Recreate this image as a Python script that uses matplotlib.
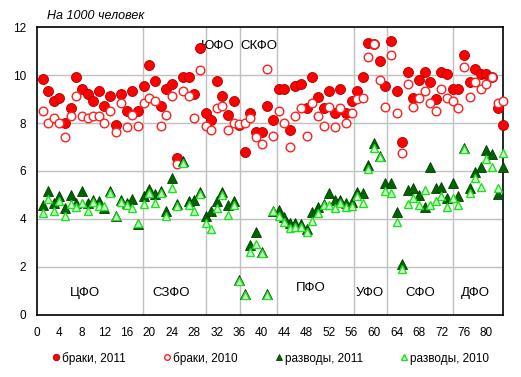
import numpy as np
import matplotlib
matplotlib.use('Agg')
import matplotlib.pyplot as plt

plt.rcParams['font.family'] = ['Liberation Sans', 'DejaVu Sans']

# region numbers 1..83
regions = np.arange(1, 84)

# marriages per 1000 people, 2011
marr_2011 = [9.82, 9.33, 8.92, 9.03, 7.99, 8.61, 9.90, 9.40, 9.21, 8.90,
             9.33, 8.71, 9.13, 7.92, 9.21, 8.50, 9.35, 8.50, 9.54, 10.42,
             9.75, 8.71, 9.40, 9.63, 6.53, 9.90, 9.90, 9.21, 11.11, 8.40,
             8.13, 9.75, 9.13, 8.32, 8.92, 7.90, 6.78, 8.40, 7.64, 7.61,
             8.71, 8.13, 9.40, 9.40, 7.71, 9.54, 9.61, 8.61, 9.90, 9.10,
             8.61, 9.33, 8.40, 9.40, 8.40, 8.92, 9.33, 9.90, 11.32, 11.30,
             10.60, 9.54, 11.43, 9.33, 7.19, 10.11, 9.03, 9.80, 10.11, 9.72,
             9.00, 10.11, 10.03, 9.40, 9.40, 10.83, 9.72, 10.24, 10.03, 10.03,
             9.90, 8.61, 7.90]

# marriages per 1000 people, 2010
marr_2010 = [8.50, 8.00, 8.19, 8.00, 7.40, 8.31, 9.13, 8.31, 8.19, 8.31,
             8.31, 8.00, 8.49, 7.64, 8.83, 7.82, 8.32, 7.89, 8.83, 9.03,
             8.93, 7.89, 8.32, 9.13, 6.28, 9.33, 9.13, 8.19, 10.21, 7.89,
             7.71, 8.61, 8.71, 7.71, 7.99, 7.96, 8.00, 8.19, 7.40, 7.11,
             10.24, 7.47, 8.50, 7.99, 6.99, 8.31, 8.61, 7.47, 8.82, 8.31,
             7.89, 8.68, 7.82, 8.61, 7.99, 8.40, 9.00, 9.05, 10.74, 11.30,
             9.79, 8.68, 10.83, 8.40, 6.76, 9.63, 8.68, 9.03, 9.35, 8.82,
             8.51, 9.40, 9.03, 8.92, 8.61, 10.32, 9.10, 9.72, 9.40, 9.61,
             9.90, 8.82, 8.92]

# divorces per 1000 people, 2011
div_2011 = [4.56, 5.18, 4.65, 4.97, 4.47, 4.99, 4.65, 5.18, 4.65, 4.79,
            4.76, 4.44, 5.15, 4.14, 4.79, 4.65, 4.83, 3.77, 4.97, 5.25,
            5.04, 5.15, 4.35, 5.69, 4.64, 6.40, 4.74, 4.79, 5.14, 4.12,
            4.35, 4.76, 5.14, 4.58, 4.74, 1.45, 0.85, 2.92, 3.44, 2.61,
            0.88, 4.35, 4.38, 4.10, 3.83, 3.85, 3.79, 3.56, 4.30, 4.48,
            4.62, 5.07, 4.80, 4.77, 4.65, 4.72, 5.14, 5.07, 6.25, 7.15,
            6.62, 5.49, 5.49, 4.27, 2.12, 5.20, 5.27, 4.99, 4.50, 6.18,
            5.27, 5.35, 4.86, 5.49, 4.97, 6.95, 5.28, 5.97, 6.18, 6.88,
            6.72, 5.04, 6.18]

# divorces per 1000 people, 2010
div_2010 = [4.26, 4.83, 4.33, 4.76, 4.14, 4.63, 4.49, 4.65, 4.33, 4.72,
            4.54, 4.54, 5.07, 4.12, 4.72, 4.59, 4.47, 3.83, 4.63, 5.07,
            4.65, 5.08, 4.14, 5.28, 4.55, 6.32, 4.60, 4.33, 5.02, 3.83,
            3.57, 4.46, 4.98, 4.15, 4.60, 1.43, 0.82, 2.64, 2.96, 2.57,
            0.81, 4.33, 4.14, 3.89, 3.60, 3.68, 3.68, 3.45, 3.93, 4.26,
            4.58, 4.60, 4.46, 4.65, 4.50, 4.54, 4.95, 4.65, 6.07, 6.94,
            6.57, 5.18, 5.10, 3.87, 1.90, 4.64, 4.86, 4.57, 5.20, 4.56,
            4.76, 4.97, 4.49, 4.86, 4.56, 6.93, 5.07, 5.69, 5.35, 6.48,
            6.18, 5.28, 6.76]

# federal districts: label, x, y
districts = ['ЦФО', 'СЗФО', 'ЮФО', 'СКФО', 'ПФО', 'УФО', 'СФО', 'ДФО']
district_x = [8.6, 23.9, 32.2, 39.5, 48.8, 59.3, 68.2, 78.0]
district_y = [0.92, 0.92, 11.2, 11.2, 1.12, 0.92, 0.92, 0.92]
borders = [18.8, 30.1, 36.05, 42.7, 56.5, 62.35, 74.1]

fig = plt.figure(figsize=(5.21, 3.77), dpi=100)
ax = fig.add_axes([0.071, 0.165, 0.895, 0.763])

# grid lines
for yv in range(2, 12, 2):
    ax.axhline(yv, color='#c0c0c0', lw=1, zorder=0)
for b in borders:
    ax.axvline(b, color='#c0c0c0', lw=1, zorder=0)

ax.plot(regions, marr_2011, 'o', ms=7.2, mfc='#ff0000', mec='#b00000', mew=0.6,
        label='браки, 2011', clip_on=False, zorder=3)
ax.plot(regions, marr_2010, 'o', ms=6.2, mfc='white', mec='#ff2020', mew=1.0,
        label='браки, 2010', clip_on=False, zorder=4)
ax.plot(regions, div_2011, '^', ms=7.4, mfc='#006400', mec='#003c00', mew=0.6,
        label='разводы, 2011', clip_on=False, zorder=5)
ax.plot(regions, div_2010, '^', ms=6.3, mfc='#ccffcc', mec='#22dd22', mew=1.0,
        label='разводы, 2010', clip_on=False, zorder=6)

for name, xv, yv in zip(districts, district_x, district_y):
    ax.text(xv, yv, name, ha='center', va='center', fontsize=9.5, zorder=2)

ax.set_xlim(0, 83)
ax.set_ylim(0, 12)
ax.set_xticks(np.arange(0, 81, 4))
ax.set_yticks(np.arange(0, 13, 2))
ax.tick_params(axis='both', length=0, labelsize=8.5)
ax.tick_params(axis='x', pad=9)
ax.tick_params(axis='y', pad=8)
for s in ax.spines.values():
    s.set_color('black')
    s.set_linewidth(1.2)

fig.text(0.09, 0.958, 'На 1000 человек', fontsize=9, style='italic',
         ha='left', va='center')

fig.legend(loc='center', bbox_to_anchor=(0.52, 0.05), ncol=4, frameon=False,
           fontsize=8.5, handlelength=0.6, handletextpad=0.2,
           columnspacing=3.2, markerscale=0.65)

fig.savefig('out.png', dpi=100)
